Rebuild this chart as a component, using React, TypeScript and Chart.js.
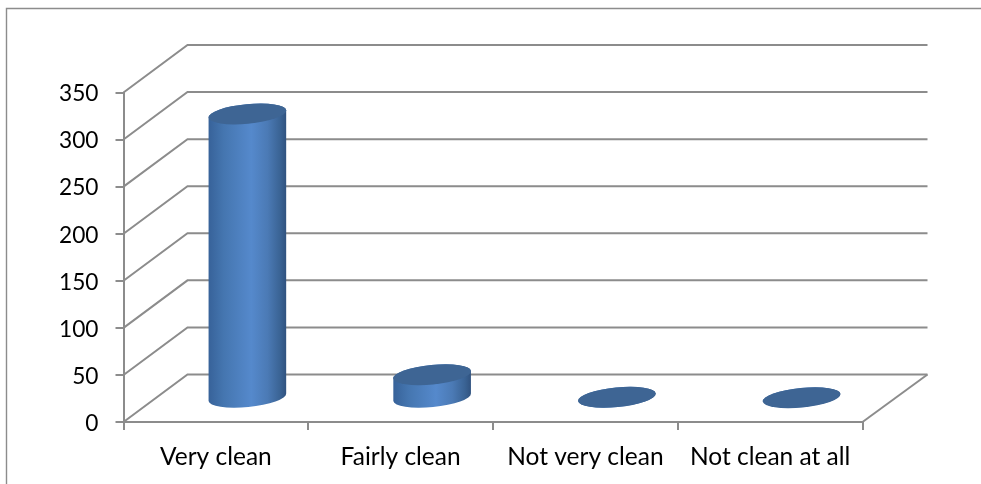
import React, { useEffect, useRef } from "react";
import { Chart, BarController, BarElement, CategoryScale, LinearScale } from "chart.js";

const categories = ["Very clean", "Fairly clean", "Not very clean", "Not clean at all"];
const responses = [302, 25, 1, 0.5];
const yMin = 0;
const yMax = 350;
const yStep = 50;

const GRID = "#8c8c8c";
const DEPTH_X = 64;
const DEPTH_Y = 47.5;
const TILT = -5.5 * Math.PI / 180;
const MINOR = 9.8;

class CylinderBar extends BarElement {
  static id = "cylinderBar";
  static defaults = BarElement.defaults;
  static defaultRoutes = BarElement.defaultRoutes;
  draw(ctx: CanvasRenderingContext2D) {
    const { x, y, base, width } = (this as any).getProps(["x", "y", "base", "width"], true);
    const cx = x + DEPTH_X / 2 - 0.5;
    const top = y - DEPTH_Y / 2;
    const bottom = base - DEPTH_Y / 2;
    const a = width / 2;
    const g = ctx.createLinearGradient(cx - a, 0, cx + a, 0);
    g.addColorStop(0, "#376299");
    g.addColorStop(0.2, "#4576b0");
    g.addColorStop(0.55, "#5589cc");
    g.addColorStop(0.76, "#4b7ab5");
    g.addColorStop(0.92, "#3a6394");
    g.addColorStop(1, "#30527f");
    ctx.save();
    ctx.beginPath();
    ctx.ellipse(cx, bottom, a, MINOR, TILT, 0, Math.PI, false);
    ctx.ellipse(cx, top, a, MINOR, TILT, Math.PI, 0, false);
    ctx.closePath();
    ctx.fillStyle = g;
    ctx.fill();
    ctx.beginPath();
    ctx.ellipse(cx, top, a, MINOR, TILT, 0, Math.PI * 2);
    ctx.fillStyle = "#3e6594";
    ctx.fill();
    ctx.restore();
  }
}

class CylinderController extends BarController {
  static id = "cylinder";
  static defaults = { ...BarController.defaults, dataElementType: "cylinderBar" };
  static overrides = BarController.overrides;
}

Chart.register(CylinderController, CylinderBar, CategoryScale, LinearScale);

const wallsPlugin = {
  id: "walls",
  beforeDraw(chart: any) {
    const { ctx, width, height } = chart;
    ctx.save();
    ctx.strokeStyle = GRID;
    ctx.lineWidth = 1.4;
    ctx.beginPath();
    ctx.moveTo(6.5, height);
    ctx.lineTo(6.5, 8.5);
    ctx.lineTo(width, 8.5);
    ctx.stroke();
    ctx.restore();
  },
  beforeDatasetsDraw(chart: any) {
    const { ctx, chartArea, scales } = chart;
    const { left, right, bottom } = chartArea;
    ctx.save();
    ctx.strokeStyle = GRID;
    ctx.lineWidth = 2;
    ctx.lineJoin = "miter";
    scales.y.ticks.forEach((t: any) => {
      const py = scales.y.getPixelForValue(t.value);
      ctx.beginPath();
      ctx.moveTo(left, py);
      ctx.lineTo(left + DEPTH_X, py - DEPTH_Y);
      ctx.lineTo(right + DEPTH_X + 1, py - DEPTH_Y);
      ctx.stroke();
    });
    ctx.beginPath();
    ctx.moveTo(right, bottom);
    ctx.lineTo(right + DEPTH_X + 1, bottom - DEPTH_Y);
    ctx.stroke();
    ctx.restore();
  },
};

export default function App() {
  const ref = useRef<HTMLCanvasElement>(null);
  useEffect(() => {
    const xFont = { family: "Lato, Carlito, sans-serif", size: 24.5 };
    const yFont = { family: "Lato, Carlito, sans-serif", size: 22.7 };
    const chart = new Chart(ref.current!, {
      type: "cylinder" as any,
      data: {
        labels: categories,
        datasets: [
          {
            data: responses,
            backgroundColor: "#4f81bd",
            barPercentage: 0.422,
            categoryPercentage: 1,
            clip: false,
          } as any,
        ],
      },
      options: {
        animation: false,
        responsive: false,
        devicePixelRatio: 1,
        layout: { padding: { top: 92.5, right: 118.5, left: 0, bottom: 0 } },
        plugins: { legend: { display: false }, tooltip: { enabled: false } },
        scales: {
          x: {
            type: "category",
            afterFit: (s: any) => {
              s.height = 62;
            },
            grid: { drawOnChartArea: false, drawTicks: true, tickLength: 8, color: GRID, lineWidth: 2, offset: true },
            border: { display: true, color: GRID, width: 2 },
            ticks: { color: "#000", font: xFont, padding: 12, maxRotation: 0, autoSkip: false },
          },
          y: {
            type: "linear",
            min: yMin,
            max: yMax,
            afterFit: (s: any) => {
              s.width = 123.5;
            },
            grid: { drawOnChartArea: false, drawTicks: true, tickLength: 8, color: GRID, lineWidth: 2 },
            border: { display: true, color: GRID, width: 2 },
            ticks: { color: "#000", font: yFont, padding: 17, stepSize: yStep, labelOffset: 1.5 },
          },
        },
      } as any,
      plugins: [wallsPlugin],
    });
    return () => chart.destroy();
  }, []);
  return (
    <canvas
      ref={ref}
      width={981}
      height={484}
      style={{ position: "fixed", left: 0, top: 0, width: 981, height: 484, display: "block" }}
    />
  );
}
